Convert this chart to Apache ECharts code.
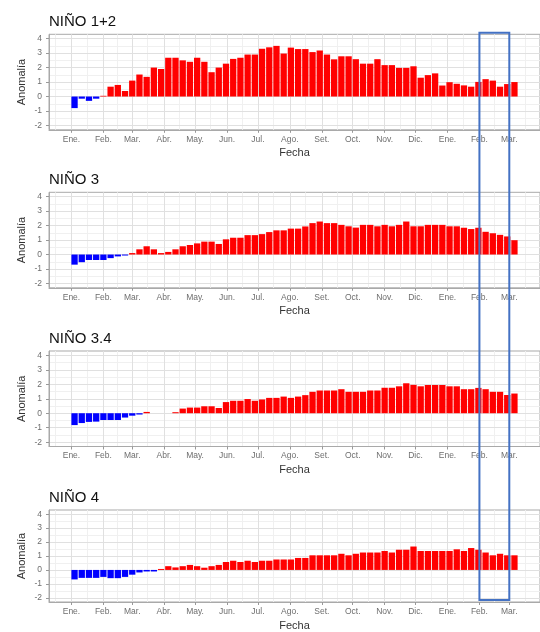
<!DOCTYPE html>
<html><head><meta charset="utf-8">
<script src="https://cdn.jsdelivr.net/npm/echarts@6/dist/echarts.min.js"></script>
<style>html,body{margin:0;padding:0;background:#fff}#c{width:540px;height:632px}</style>
</head><body><div id="c"></div>
<script>
// Weekly dates (centre of each week)
const dates = [
 '2023-01-04','2023-01-11','2023-01-18','2023-01-25',
 '2023-02-01','2023-02-08','2023-02-15','2023-02-22',
 '2023-03-01','2023-03-08','2023-03-15','2023-03-22','2023-03-29',
 '2023-04-05','2023-04-12','2023-04-19','2023-04-26',
 '2023-05-03','2023-05-10','2023-05-17','2023-05-24','2023-05-31',
 '2023-06-07','2023-06-14','2023-06-21','2023-06-28',
 '2023-07-05','2023-07-12','2023-07-19','2023-07-26',
 '2023-08-02','2023-08-09','2023-08-16','2023-08-23','2023-08-30',
 '2023-09-06','2023-09-13','2023-09-20','2023-09-27',
 '2023-10-04','2023-10-11','2023-10-18','2023-10-25',
 '2023-11-01','2023-11-08','2023-11-15','2023-11-22','2023-11-29',
 '2023-12-06','2023-12-13','2023-12-20','2023-12-27',
 '2024-01-03','2024-01-10','2024-01-17','2024-01-24','2024-01-31',
 '2024-02-07','2024-02-14','2024-02-21','2024-02-28',
 '2024-03-06'
];
const nino12 = [-0.8,-0.15,-0.3,-0.15,0.05,0.68,0.8,0.38,1.1,1.52,1.36,2.0,1.9,2.68,2.68,2.5,2.4,2.68,2.4,1.68,2.0,2.27,2.6,2.68,2.9,2.9,3.3,3.4,3.5,2.97,3.38,3.28,3.28,3.07,3.18,2.9,2.57,2.78,2.78,2.58,2.27,2.27,2.58,2.17,2.17,1.98,1.98,2.09,1.3,1.48,1.6,0.76,0.99,0.88,0.77,0.68,1.01,1.2,1.1,0.68,0.86,1.0];
const nino3 = [-0.7,-0.53,-0.38,-0.38,-0.38,-0.25,-0.13,-0.07,0.1,0.36,0.57,0.36,0.1,0.18,0.36,0.57,0.66,0.77,0.89,0.89,0.73,1.05,1.16,1.16,1.34,1.34,1.41,1.55,1.67,1.67,1.79,1.79,1.94,2.17,2.28,2.17,2.17,2.05,1.95,1.86,2.05,2.05,1.95,2.05,1.95,2.05,2.28,1.95,1.95,2.05,2.05,2.05,1.95,1.95,1.85,1.76,1.85,1.57,1.47,1.36,1.25,0.99];
const nino34 = [-0.82,-0.68,-0.6,-0.58,-0.47,-0.47,-0.47,-0.3,-0.17,-0.09,0.09,0,0,0,0.07,0.32,0.39,0.39,0.48,0.48,0.36,0.77,0.86,0.86,0.98,0.86,0.95,1.06,1.06,1.15,1.06,1.15,1.25,1.48,1.57,1.57,1.57,1.66,1.48,1.48,1.48,1.57,1.57,1.76,1.76,1.86,2.07,1.96,1.86,1.95,1.95,1.95,1.86,1.86,1.66,1.66,1.75,1.66,1.48,1.48,1.26,1.36];
const nino4 = [-0.68,-0.57,-0.57,-0.57,-0.5,-0.59,-0.59,-0.5,-0.34,-0.18,-0.11,-0.11,0.07,0.27,0.18,0.27,0.36,0.27,0.16,0.27,0.36,0.57,0.66,0.57,0.66,0.57,0.66,0.66,0.75,0.75,0.75,0.86,0.86,1.05,1.05,1.05,1.05,1.16,1.05,1.16,1.25,1.25,1.25,1.36,1.25,1.45,1.45,1.68,1.36,1.36,1.36,1.36,1.36,1.48,1.36,1.57,1.45,1.25,1.05,1.16,1.05,1.05];
const panelTitles = ['NIÑO 1+2','NIÑO 3','NIÑO 3.4','NIÑO 4'];
const panelSeries = [nino12, nino3, nino34, nino4];
const monthTickDates = ['2023-01-01','2023-02-01','2023-03-01','2023-04-01','2023-05-01','2023-06-01','2023-07-01','2023-08-01','2023-09-01','2023-10-01','2023-11-01','2023-12-01','2024-01-01','2024-02-01','2024-03-01'];
const monthTickLabels = ['Ene.','Feb.','Mar.','Abr.','May.','Jun.','Jul.','Ago.','Set.','Oct.','Nov.','Dic.','Ene.','Feb.','Mar.'];
const minorMonthDates = ['2022-12-16','2023-01-16','2023-02-14','2023-03-16','2023-04-16','2023-05-16','2023-06-16','2023-07-16','2023-08-16','2023-09-16','2023-10-16','2023-11-16','2023-12-16','2024-01-16','2024-02-15','2024-03-16'];
const yTicks = [-2,-1,0,1,2,3,4];
const yMinorTicks = [-1.5,-0.5,0.5,1.5,2.5,3.5];
const highlight = ['2024-02-01','2024-03-01'];

const ORIGIN = Date.parse('2023-01-01');
const day = s => (Date.parse(s) - ORIGIN) / 86400000;
const tickDays = monthTickDates.map(day);
const minorDays = minorMonthDates.map(day);

const XMIN = -21.8, XMAX = 454.8, YMIN = -2.3, YMAX = 4.3;
const tops = [34.3, 192.3, 351, 510];
const H = 95.5;
const FONT = '"Liberation Sans", Arial, sans-serif';

const chart = echarts.init(document.getElementById('c'), null, {renderer: 'canvas'});
const grid = [], xAxis = [], yAxis = [], series = [], title = [];
tops.forEach((t, i) => {
  grid.push({left: 49, right: -8, top: t, height: H, show: true, borderColor: '#a9a9a9', borderWidth: 1, backgroundColor: '#fff'});
  title.push({text: panelTitles[i], left: 49, top: t - 20, padding: 0, textStyle: {fontFamily: FONT, fontSize: 15, fontWeight: 'normal', color: '#111'}});
});
tops.forEach((t, i) => {
  xAxis.push({
    type: 'value', gridIndex: i, min: XMIN, max: XMAX, z: 3,
    axisLine: {show: true, onZero: false, lineStyle: {color: '#a9a9a9', width: 1}},
    axisTick: {show: true, customValues: tickDays, length: 3, lineStyle: {color: '#999'}},
    axisLabel: {customValues: tickDays, margin: 5, fontSize: 8.5, color: '#6e6e6e', fontFamily: FONT,
      formatter: v => monthTickLabels[tickDays.indexOf(Math.round(v))] || ''},
    splitLine: {show: true, lineStyle: {color: '#e0e0e0', width: 1}},
    name: 'Fecha', nameLocation: 'middle', nameGap: 18, nameMoveOverlap: false,
    nameTextStyle: {fontSize: 11, color: '#333', fontFamily: FONT}
  });
  yAxis.push({
    type: 'value', gridIndex: i, min: YMIN, max: YMAX, z: 3,
    axisLine: {show: true, onZero: false, lineStyle: {color: '#a9a9a9', width: 1}},
    axisTick: {show: true, customValues: yTicks, length: 3, lineStyle: {color: '#999'}},
    axisLabel: {customValues: yTicks, margin: 7, fontSize: 8.5, color: '#6e6e6e', fontFamily: FONT},
    splitLine: {show: true, lineStyle: {color: '#e0e0e0', width: 1}},
    name: 'Anomalía', nameLocation: 'middle', nameGap: 22, nameMoveOverlap: false,
    nameTextStyle: {fontSize: 11, color: '#333', fontFamily: FONT}
  });
});
tops.forEach((t, i) => {
  xAxis.push({
    type: 'value', gridIndex: i, min: XMIN, max: XMAX, z: 1,
    axisLine: {show: false}, axisLabel: {show: false},
    axisTick: {show: false, customValues: minorDays},
    splitLine: {show: true, lineStyle: {color: '#f0f0f0', width: 1}}
  });
  yAxis.push({
    type: 'value', gridIndex: i, min: YMIN, max: YMAX, z: 1,
    axisLine: {show: false, onZero: false}, axisLabel: {show: false},
    axisTick: {show: false, customValues: yMinorTicks},
    splitLine: {show: true, lineStyle: {color: '#f0f0f0', width: 1}}
  });
});
panelSeries.forEach((vals, i) => {
  series.push({
    type: 'bar', xAxisIndex: i, yAxisIndex: i, barWidth: 6.3, z: 5,
    data: vals.map((v, k) => [day(dates[k]), v]),
    itemStyle: {color: p => p.value[1] < 0 ? '#0000ff' : '#ff0000'},
    animation: false
  });
});
chart.setOption({animation: false, title, grid, xAxis, yAxis, series});

const p1 = chart.convertToPixel({xAxisIndex: 0, yAxisIndex: 0}, [day(highlight[0]), YMAX]);
const p2 = chart.convertToPixel({xAxisIndex: 3, yAxisIndex: 3}, [day(highlight[1]), YMIN]);
chart.setOption({graphic: [{
  type: 'rect', z: 100, silent: true,
  shape: {x: p1[0], y: p1[1] - 1.6, width: p2[0] - p1[0], height: (p2[1] - 2) - (p1[1] - 1.6)},
  style: {fill: 'none', stroke: '#4472c4', lineWidth: 2}
}]});
</script>
</body></html>
